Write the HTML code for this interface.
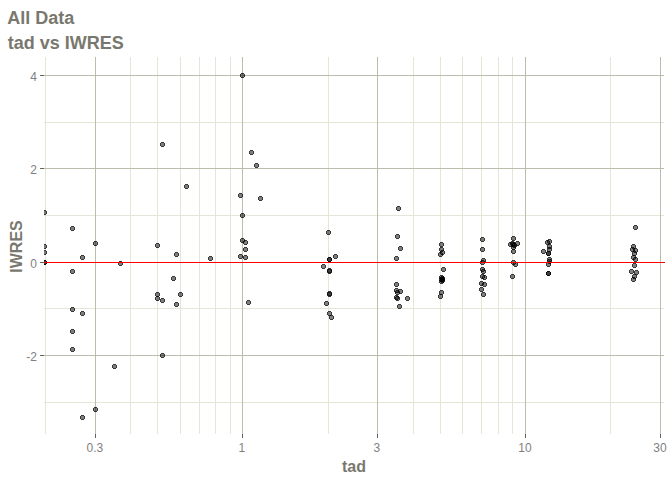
<!DOCTYPE html><html><head><meta charset="utf-8"><style>html,body{margin:0;padding:0;background:#fff;width:672px;height:480px;overflow:hidden}svg{display:block}text{font-family:"Liberation Sans",sans-serif}</style></head><body>
<svg width="672" height="480" viewBox="0 0 672 480">
<rect width="672" height="480" fill="#fff"/>
<defs><clipPath id="pc"><rect x="44" y="57" width="620" height="377"/></clipPath></defs>
<g shape-rendering="crispEdges"><rect x="45.0" y="57" width="1" height="377" fill="#e6e6d8"/><rect x="130.0" y="57" width="1" height="377" fill="#e6e6d8"/><rect x="157.0" y="57" width="1" height="377" fill="#e6e6d8"/><rect x="180.0" y="57" width="1" height="377" fill="#e6e6d8"/><rect x="199.0" y="57" width="1" height="377" fill="#e6e6d8"/><rect x="215.0" y="57" width="1" height="377" fill="#e6e6d8"/><rect x="230.0" y="57" width="1" height="377" fill="#e6e6d8"/><rect x="328.0" y="57" width="1" height="377" fill="#e6e6d8"/><rect x="413.0" y="57" width="1" height="377" fill="#e6e6d8"/><rect x="440.0" y="57" width="1" height="377" fill="#e6e6d8"/><rect x="462.0" y="57" width="1" height="377" fill="#e6e6d8"/><rect x="481.0" y="57" width="1" height="377" fill="#e6e6d8"/><rect x="498.0" y="57" width="1" height="377" fill="#e6e6d8"/><rect x="512.0" y="57" width="1" height="377" fill="#e6e6d8"/><rect x="610.0" y="57" width="1" height="377" fill="#e6e6d8"/><rect x="44" y="122.0" width="620" height="1" fill="#e6e6d8"/><rect x="44" y="215.0" width="620" height="1" fill="#e6e6d8"/><rect x="44" y="308.0" width="620" height="1" fill="#e6e6d8"/><rect x="44" y="402.0" width="620" height="1" fill="#e6e6d8"/><rect x="95.0" y="57" width="1" height="377" fill="#bdbdad"/><rect x="242.0" y="57" width="1" height="377" fill="#bdbdad"/><rect x="377.0" y="57" width="1" height="377" fill="#bdbdad"/><rect x="525.0" y="57" width="1" height="377" fill="#bdbdad"/><rect x="660.0" y="57" width="1" height="377" fill="#bdbdad"/><rect x="44" y="75.0" width="620" height="1" fill="#bdbdad"/><rect x="44" y="168.0" width="620" height="1" fill="#bdbdad"/><rect x="44" y="262.0" width="620" height="1" fill="#bdbdad"/><rect x="44" y="355.0" width="620" height="1" fill="#bdbdad"/></g>
<g clip-path="url(#pc)" shape-rendering="crispEdges" fill="#000"><rect x="43" y="211" width="3" height="3" fill-opacity="0.5"/><path d="M43 210h3v1h-3z M43 214h3v1h-3z M42 211h1v3h-1z M46 211h1v3h-1z" fill-opacity="0.78"/><rect x="43" y="245" width="3" height="3" fill-opacity="0.5"/><path d="M43 244h3v1h-3z M43 248h3v1h-3z M42 245h1v3h-1z M46 245h1v3h-1z" fill-opacity="0.78"/><rect x="43" y="251" width="3" height="3" fill-opacity="0.5"/><path d="M43 250h3v1h-3z M43 254h3v1h-3z M42 251h1v3h-1z M46 251h1v3h-1z" fill-opacity="0.78"/><rect x="43" y="261" width="3" height="3" fill-opacity="0.5"/><path d="M43 260h3v1h-3z M43 264h3v1h-3z M42 261h1v3h-1z M46 261h1v3h-1z" fill-opacity="0.78"/><rect x="43" y="261" width="3" height="3" fill-opacity="0.5"/><path d="M43 260h3v1h-3z M43 264h3v1h-3z M42 261h1v3h-1z M46 261h1v3h-1z" fill-opacity="0.78"/><rect x="71" y="227" width="3" height="3" fill-opacity="0.5"/><path d="M71 226h3v1h-3z M71 230h3v1h-3z M70 227h1v3h-1z M74 227h1v3h-1z" fill-opacity="0.78"/><rect x="71" y="270" width="3" height="3" fill-opacity="0.5"/><path d="M71 269h3v1h-3z M71 273h3v1h-3z M70 270h1v3h-1z M74 270h1v3h-1z" fill-opacity="0.78"/><rect x="71" y="308" width="3" height="3" fill-opacity="0.5"/><path d="M71 307h3v1h-3z M71 311h3v1h-3z M70 308h1v3h-1z M74 308h1v3h-1z" fill-opacity="0.78"/><rect x="71" y="330" width="3" height="3" fill-opacity="0.5"/><path d="M71 329h3v1h-3z M71 333h3v1h-3z M70 330h1v3h-1z M74 330h1v3h-1z" fill-opacity="0.78"/><rect x="71" y="348" width="3" height="3" fill-opacity="0.5"/><path d="M71 347h3v1h-3z M71 351h3v1h-3z M70 348h1v3h-1z M74 348h1v3h-1z" fill-opacity="0.78"/><rect x="81" y="256" width="3" height="3" fill-opacity="0.5"/><path d="M81 255h3v1h-3z M81 259h3v1h-3z M80 256h1v3h-1z M84 256h1v3h-1z" fill-opacity="0.78"/><rect x="81" y="312" width="3" height="3" fill-opacity="0.5"/><path d="M81 311h3v1h-3z M81 315h3v1h-3z M80 312h1v3h-1z M84 312h1v3h-1z" fill-opacity="0.78"/><rect x="81" y="416" width="3" height="3" fill-opacity="0.5"/><path d="M81 415h3v1h-3z M81 419h3v1h-3z M80 416h1v3h-1z M84 416h1v3h-1z" fill-opacity="0.78"/><rect x="94" y="242" width="3" height="3" fill-opacity="0.5"/><path d="M94 241h3v1h-3z M94 245h3v1h-3z M93 242h1v3h-1z M97 242h1v3h-1z" fill-opacity="0.78"/><rect x="94" y="408" width="3" height="3" fill-opacity="0.5"/><path d="M94 407h3v1h-3z M94 411h3v1h-3z M93 408h1v3h-1z M97 408h1v3h-1z" fill-opacity="0.78"/><rect x="113" y="365" width="3" height="3" fill-opacity="0.5"/><path d="M113 364h3v1h-3z M113 368h3v1h-3z M112 365h1v3h-1z M116 365h1v3h-1z" fill-opacity="0.78"/><rect x="119" y="262" width="3" height="3" fill-opacity="0.5"/><path d="M119 261h3v1h-3z M119 265h3v1h-3z M118 262h1v3h-1z M122 262h1v3h-1z" fill-opacity="0.78"/><rect x="156" y="244" width="3" height="3" fill-opacity="0.5"/><path d="M156 243h3v1h-3z M156 247h3v1h-3z M155 244h1v3h-1z M159 244h1v3h-1z" fill-opacity="0.78"/><rect x="161" y="143" width="3" height="3" fill-opacity="0.5"/><path d="M161 142h3v1h-3z M161 146h3v1h-3z M160 143h1v3h-1z M164 143h1v3h-1z" fill-opacity="0.78"/><rect x="175" y="253" width="3" height="3" fill-opacity="0.5"/><path d="M175 252h3v1h-3z M175 256h3v1h-3z M174 253h1v3h-1z M178 253h1v3h-1z" fill-opacity="0.78"/><rect x="172" y="277" width="3" height="3" fill-opacity="0.5"/><path d="M172 276h3v1h-3z M172 280h3v1h-3z M171 277h1v3h-1z M175 277h1v3h-1z" fill-opacity="0.78"/><rect x="156" y="293" width="3" height="3" fill-opacity="0.5"/><path d="M156 292h3v1h-3z M156 296h3v1h-3z M155 293h1v3h-1z M159 293h1v3h-1z" fill-opacity="0.78"/><rect x="179" y="293" width="3" height="3" fill-opacity="0.5"/><path d="M179 292h3v1h-3z M179 296h3v1h-3z M178 293h1v3h-1z M182 293h1v3h-1z" fill-opacity="0.78"/><rect x="156" y="297" width="3" height="3" fill-opacity="0.5"/><path d="M156 296h3v1h-3z M156 300h3v1h-3z M155 297h1v3h-1z M159 297h1v3h-1z" fill-opacity="0.78"/><rect x="161" y="299" width="3" height="3" fill-opacity="0.5"/><path d="M161 298h3v1h-3z M161 302h3v1h-3z M160 299h1v3h-1z M164 299h1v3h-1z" fill-opacity="0.78"/><rect x="175" y="303" width="3" height="3" fill-opacity="0.5"/><path d="M175 302h3v1h-3z M175 306h3v1h-3z M174 303h1v3h-1z M178 303h1v3h-1z" fill-opacity="0.78"/><rect x="161" y="354" width="3" height="3" fill-opacity="0.5"/><path d="M161 353h3v1h-3z M161 357h3v1h-3z M160 354h1v3h-1z M164 354h1v3h-1z" fill-opacity="0.78"/><rect x="185" y="185" width="3" height="3" fill-opacity="0.5"/><path d="M185 184h3v1h-3z M185 188h3v1h-3z M184 185h1v3h-1z M188 185h1v3h-1z" fill-opacity="0.78"/><rect x="209" y="257" width="3" height="3" fill-opacity="0.5"/><path d="M209 256h3v1h-3z M209 260h3v1h-3z M208 257h1v3h-1z M212 257h1v3h-1z" fill-opacity="0.78"/><rect x="241" y="74" width="3" height="3" fill-opacity="0.5"/><path d="M241 73h3v1h-3z M241 77h3v1h-3z M240 74h1v3h-1z M244 74h1v3h-1z" fill-opacity="0.78"/><rect x="250" y="151" width="3" height="3" fill-opacity="0.5"/><path d="M250 150h3v1h-3z M250 154h3v1h-3z M249 151h1v3h-1z M253 151h1v3h-1z" fill-opacity="0.78"/><rect x="255" y="164" width="3" height="3" fill-opacity="0.5"/><path d="M255 163h3v1h-3z M255 167h3v1h-3z M254 164h1v3h-1z M258 164h1v3h-1z" fill-opacity="0.78"/><rect x="239" y="194" width="3" height="3" fill-opacity="0.5"/><path d="M239 193h3v1h-3z M239 197h3v1h-3z M238 194h1v3h-1z M242 194h1v3h-1z" fill-opacity="0.78"/><rect x="259" y="197" width="3" height="3" fill-opacity="0.5"/><path d="M259 196h3v1h-3z M259 200h3v1h-3z M258 197h1v3h-1z M262 197h1v3h-1z" fill-opacity="0.78"/><rect x="241" y="214" width="3" height="3" fill-opacity="0.5"/><path d="M241 213h3v1h-3z M241 217h3v1h-3z M240 214h1v3h-1z M244 214h1v3h-1z" fill-opacity="0.78"/><rect x="241" y="239" width="3" height="3" fill-opacity="0.5"/><path d="M241 238h3v1h-3z M241 242h3v1h-3z M240 239h1v3h-1z M244 239h1v3h-1z" fill-opacity="0.78"/><rect x="244" y="241" width="3" height="3" fill-opacity="0.5"/><path d="M244 240h3v1h-3z M244 244h3v1h-3z M243 241h1v3h-1z M247 241h1v3h-1z" fill-opacity="0.78"/><rect x="244" y="248" width="3" height="3" fill-opacity="0.5"/><path d="M244 247h3v1h-3z M244 251h3v1h-3z M243 248h1v3h-1z M247 248h1v3h-1z" fill-opacity="0.78"/><rect x="239" y="255" width="3" height="3" fill-opacity="0.5"/><path d="M239 254h3v1h-3z M239 258h3v1h-3z M238 255h1v3h-1z M242 255h1v3h-1z" fill-opacity="0.78"/><rect x="244" y="256" width="3" height="3" fill-opacity="0.5"/><path d="M244 255h3v1h-3z M244 259h3v1h-3z M243 256h1v3h-1z M247 256h1v3h-1z" fill-opacity="0.78"/><rect x="247" y="301" width="3" height="3" fill-opacity="0.5"/><path d="M247 300h3v1h-3z M247 304h3v1h-3z M246 301h1v3h-1z M250 301h1v3h-1z" fill-opacity="0.78"/><rect x="327" y="231" width="3" height="3" fill-opacity="0.5"/><path d="M327 230h3v1h-3z M327 234h3v1h-3z M326 231h1v3h-1z M330 231h1v3h-1z" fill-opacity="0.78"/><rect x="334" y="255" width="3" height="3" fill-opacity="0.5"/><path d="M334 254h3v1h-3z M334 258h3v1h-3z M333 255h1v3h-1z M337 255h1v3h-1z" fill-opacity="0.78"/><rect x="328" y="258" width="3" height="3" fill-opacity="0.5"/><path d="M328 257h3v1h-3z M328 261h3v1h-3z M327 258h1v3h-1z M331 258h1v3h-1z" fill-opacity="0.78"/><rect x="328" y="258" width="3" height="3" fill-opacity="0.5"/><path d="M328 257h3v1h-3z M328 261h3v1h-3z M327 258h1v3h-1z M331 258h1v3h-1z" fill-opacity="0.78"/><rect x="322" y="265" width="3" height="3" fill-opacity="0.5"/><path d="M322 264h3v1h-3z M322 268h3v1h-3z M321 265h1v3h-1z M325 265h1v3h-1z" fill-opacity="0.78"/><rect x="328" y="269" width="3" height="3" fill-opacity="0.5"/><path d="M328 268h3v1h-3z M328 272h3v1h-3z M327 269h1v3h-1z M331 269h1v3h-1z" fill-opacity="0.78"/><rect x="328" y="270" width="3" height="3" fill-opacity="0.5"/><path d="M328 269h3v1h-3z M328 273h3v1h-3z M327 270h1v3h-1z M331 270h1v3h-1z" fill-opacity="0.78"/><rect x="328" y="292" width="3" height="3" fill-opacity="0.5"/><path d="M328 291h3v1h-3z M328 295h3v1h-3z M327 292h1v3h-1z M331 292h1v3h-1z" fill-opacity="0.78"/><rect x="328" y="293" width="3" height="3" fill-opacity="0.5"/><path d="M328 292h3v1h-3z M328 296h3v1h-3z M327 293h1v3h-1z M331 293h1v3h-1z" fill-opacity="0.78"/><rect x="325" y="302" width="3" height="3" fill-opacity="0.5"/><path d="M325 301h3v1h-3z M325 305h3v1h-3z M324 302h1v3h-1z M328 302h1v3h-1z" fill-opacity="0.78"/><rect x="328" y="312" width="3" height="3" fill-opacity="0.5"/><path d="M328 311h3v1h-3z M328 315h3v1h-3z M327 312h1v3h-1z M331 312h1v3h-1z" fill-opacity="0.78"/><rect x="330" y="316" width="3" height="3" fill-opacity="0.5"/><path d="M330 315h3v1h-3z M330 319h3v1h-3z M329 316h1v3h-1z M333 316h1v3h-1z" fill-opacity="0.78"/><rect x="397" y="207" width="3" height="3" fill-opacity="0.5"/><path d="M397 206h3v1h-3z M397 210h3v1h-3z M396 207h1v3h-1z M400 207h1v3h-1z" fill-opacity="0.78"/><rect x="396" y="235" width="3" height="3" fill-opacity="0.5"/><path d="M396 234h3v1h-3z M396 238h3v1h-3z M395 235h1v3h-1z M399 235h1v3h-1z" fill-opacity="0.78"/><rect x="399" y="247" width="3" height="3" fill-opacity="0.5"/><path d="M399 246h3v1h-3z M399 250h3v1h-3z M398 247h1v3h-1z M402 247h1v3h-1z" fill-opacity="0.78"/><rect x="395" y="257" width="3" height="3" fill-opacity="0.5"/><path d="M395 256h3v1h-3z M395 260h3v1h-3z M394 257h1v3h-1z M398 257h1v3h-1z" fill-opacity="0.78"/><rect x="395" y="283" width="3" height="3" fill-opacity="0.5"/><path d="M395 282h3v1h-3z M395 286h3v1h-3z M394 283h1v3h-1z M398 283h1v3h-1z" fill-opacity="0.78"/><rect x="395" y="289" width="3" height="3" fill-opacity="0.5"/><path d="M395 288h3v1h-3z M395 292h3v1h-3z M394 289h1v3h-1z M398 289h1v3h-1z" fill-opacity="0.78"/><rect x="399" y="290" width="3" height="3" fill-opacity="0.5"/><path d="M399 289h3v1h-3z M399 293h3v1h-3z M398 290h1v3h-1z M402 290h1v3h-1z" fill-opacity="0.78"/><rect x="396" y="291" width="3" height="3" fill-opacity="0.5"/><path d="M396 290h3v1h-3z M396 294h3v1h-3z M395 291h1v3h-1z M399 291h1v3h-1z" fill-opacity="0.78"/><rect x="396" y="297" width="3" height="3" fill-opacity="0.5"/><path d="M396 296h3v1h-3z M396 300h3v1h-3z M395 297h1v3h-1z M399 297h1v3h-1z" fill-opacity="0.78"/><rect x="395" y="296" width="3" height="3" fill-opacity="0.5"/><path d="M395 295h3v1h-3z M395 299h3v1h-3z M394 296h1v3h-1z M398 296h1v3h-1z" fill-opacity="0.78"/><rect x="406" y="297" width="3" height="3" fill-opacity="0.5"/><path d="M406 296h3v1h-3z M406 300h3v1h-3z M405 297h1v3h-1z M409 297h1v3h-1z" fill-opacity="0.78"/><rect x="398" y="305" width="3" height="3" fill-opacity="0.5"/><path d="M398 304h3v1h-3z M398 308h3v1h-3z M397 305h1v3h-1z M401 305h1v3h-1z" fill-opacity="0.78"/><rect x="440" y="243" width="3" height="3" fill-opacity="0.5"/><path d="M440 242h3v1h-3z M440 246h3v1h-3z M439 243h1v3h-1z M443 243h1v3h-1z" fill-opacity="0.78"/><rect x="440" y="248" width="3" height="3" fill-opacity="0.5"/><path d="M440 247h3v1h-3z M440 251h3v1h-3z M439 248h1v3h-1z M443 248h1v3h-1z" fill-opacity="0.78"/><rect x="441" y="251" width="3" height="3" fill-opacity="0.5"/><path d="M441 250h3v1h-3z M441 254h3v1h-3z M440 251h1v3h-1z M444 251h1v3h-1z" fill-opacity="0.78"/><rect x="439" y="253" width="3" height="3" fill-opacity="0.5"/><path d="M439 252h3v1h-3z M439 256h3v1h-3z M438 253h1v3h-1z M442 253h1v3h-1z" fill-opacity="0.78"/><rect x="442" y="268" width="3" height="3" fill-opacity="0.5"/><path d="M442 267h3v1h-3z M442 271h3v1h-3z M441 268h1v3h-1z M445 268h1v3h-1z" fill-opacity="0.78"/><rect x="440" y="276" width="3" height="3" fill-opacity="0.5"/><path d="M440 275h3v1h-3z M440 279h3v1h-3z M439 276h1v3h-1z M443 276h1v3h-1z" fill-opacity="0.78"/><rect x="441" y="278" width="3" height="3" fill-opacity="0.5"/><path d="M441 277h3v1h-3z M441 281h3v1h-3z M440 278h1v3h-1z M444 278h1v3h-1z" fill-opacity="0.78"/><rect x="440" y="280" width="3" height="3" fill-opacity="0.5"/><path d="M440 279h3v1h-3z M440 283h3v1h-3z M439 280h1v3h-1z M443 280h1v3h-1z" fill-opacity="0.78"/><rect x="440" y="278" width="3" height="3" fill-opacity="0.5"/><path d="M440 277h3v1h-3z M440 281h3v1h-3z M439 278h1v3h-1z M443 278h1v3h-1z" fill-opacity="0.78"/><rect x="441" y="277" width="3" height="3" fill-opacity="0.5"/><path d="M441 276h3v1h-3z M441 280h3v1h-3z M440 277h1v3h-1z M444 277h1v3h-1z" fill-opacity="0.78"/><rect x="441" y="279" width="3" height="3" fill-opacity="0.5"/><path d="M441 278h3v1h-3z M441 282h3v1h-3z M440 279h1v3h-1z M444 279h1v3h-1z" fill-opacity="0.78"/><rect x="440" y="291" width="3" height="3" fill-opacity="0.5"/><path d="M440 290h3v1h-3z M440 294h3v1h-3z M439 291h1v3h-1z M443 291h1v3h-1z" fill-opacity="0.78"/><rect x="439" y="295" width="3" height="3" fill-opacity="0.5"/><path d="M439 294h3v1h-3z M439 298h3v1h-3z M438 295h1v3h-1z M442 295h1v3h-1z" fill-opacity="0.78"/><rect x="481" y="238" width="3" height="3" fill-opacity="0.5"/><path d="M481 237h3v1h-3z M481 241h3v1h-3z M480 238h1v3h-1z M484 238h1v3h-1z" fill-opacity="0.78"/><rect x="481" y="248" width="3" height="3" fill-opacity="0.5"/><path d="M481 247h3v1h-3z M481 251h3v1h-3z M480 248h1v3h-1z M484 248h1v3h-1z" fill-opacity="0.78"/><rect x="482" y="259" width="3" height="3" fill-opacity="0.5"/><path d="M482 258h3v1h-3z M482 262h3v1h-3z M481 259h1v3h-1z M485 259h1v3h-1z" fill-opacity="0.78"/><rect x="481" y="261" width="3" height="3" fill-opacity="0.5"/><path d="M481 260h3v1h-3z M481 264h3v1h-3z M480 261h1v3h-1z M484 261h1v3h-1z" fill-opacity="0.78"/><rect x="481" y="268" width="3" height="3" fill-opacity="0.5"/><path d="M481 267h3v1h-3z M481 271h3v1h-3z M480 268h1v3h-1z M484 268h1v3h-1z" fill-opacity="0.78"/><rect x="482" y="270" width="3" height="3" fill-opacity="0.5"/><path d="M482 269h3v1h-3z M482 273h3v1h-3z M481 270h1v3h-1z M485 270h1v3h-1z" fill-opacity="0.78"/><rect x="481" y="275" width="3" height="3" fill-opacity="0.5"/><path d="M481 274h3v1h-3z M481 278h3v1h-3z M480 275h1v3h-1z M484 275h1v3h-1z" fill-opacity="0.78"/><rect x="483" y="276" width="3" height="3" fill-opacity="0.5"/><path d="M483 275h3v1h-3z M483 279h3v1h-3z M482 276h1v3h-1z M486 276h1v3h-1z" fill-opacity="0.78"/><rect x="480" y="282" width="3" height="3" fill-opacity="0.5"/><path d="M480 281h3v1h-3z M480 285h3v1h-3z M479 282h1v3h-1z M483 282h1v3h-1z" fill-opacity="0.78"/><rect x="483" y="283" width="3" height="3" fill-opacity="0.5"/><path d="M483 282h3v1h-3z M483 286h3v1h-3z M482 283h1v3h-1z M486 283h1v3h-1z" fill-opacity="0.78"/><rect x="480" y="288" width="3" height="3" fill-opacity="0.5"/><path d="M480 287h3v1h-3z M480 291h3v1h-3z M479 288h1v3h-1z M483 288h1v3h-1z" fill-opacity="0.78"/><rect x="482" y="293" width="3" height="3" fill-opacity="0.5"/><path d="M482 292h3v1h-3z M482 296h3v1h-3z M481 293h1v3h-1z M485 293h1v3h-1z" fill-opacity="0.78"/><rect x="512" y="237" width="3" height="3" fill-opacity="0.5"/><path d="M512 236h3v1h-3z M512 240h3v1h-3z M511 237h1v3h-1z M515 237h1v3h-1z" fill-opacity="0.78"/><rect x="516" y="242" width="3" height="3" fill-opacity="0.5"/><path d="M516 241h3v1h-3z M516 245h3v1h-3z M515 242h1v3h-1z M519 242h1v3h-1z" fill-opacity="0.78"/><rect x="509" y="243" width="3" height="3" fill-opacity="0.5"/><path d="M509 242h3v1h-3z M509 246h3v1h-3z M508 243h1v3h-1z M512 243h1v3h-1z" fill-opacity="0.78"/><rect x="511" y="242" width="3" height="3" fill-opacity="0.5"/><path d="M511 241h3v1h-3z M511 245h3v1h-3z M510 242h1v3h-1z M514 242h1v3h-1z" fill-opacity="0.78"/><rect x="512" y="243" width="3" height="3" fill-opacity="0.5"/><path d="M512 242h3v1h-3z M512 246h3v1h-3z M511 243h1v3h-1z M515 243h1v3h-1z" fill-opacity="0.78"/><rect x="513" y="244" width="3" height="3" fill-opacity="0.5"/><path d="M513 243h3v1h-3z M513 247h3v1h-3z M512 244h1v3h-1z M516 244h1v3h-1z" fill-opacity="0.78"/><rect x="512" y="246" width="3" height="3" fill-opacity="0.5"/><path d="M512 245h3v1h-3z M512 249h3v1h-3z M511 246h1v3h-1z M515 246h1v3h-1z" fill-opacity="0.78"/><rect x="512" y="250" width="3" height="3" fill-opacity="0.5"/><path d="M512 249h3v1h-3z M512 253h3v1h-3z M511 250h1v3h-1z M515 250h1v3h-1z" fill-opacity="0.78"/><rect x="512" y="261" width="3" height="3" fill-opacity="0.5"/><path d="M512 260h3v1h-3z M512 264h3v1h-3z M511 261h1v3h-1z M515 261h1v3h-1z" fill-opacity="0.78"/><rect x="514" y="263" width="3" height="3" fill-opacity="0.5"/><path d="M514 262h3v1h-3z M514 266h3v1h-3z M513 263h1v3h-1z M517 263h1v3h-1z" fill-opacity="0.78"/><rect x="511" y="275" width="3" height="3" fill-opacity="0.5"/><path d="M511 274h3v1h-3z M511 278h3v1h-3z M510 275h1v3h-1z M514 275h1v3h-1z" fill-opacity="0.78"/><rect x="546" y="241" width="3" height="3" fill-opacity="0.5"/><path d="M546 240h3v1h-3z M546 244h3v1h-3z M545 241h1v3h-1z M549 241h1v3h-1z" fill-opacity="0.78"/><rect x="548" y="240" width="3" height="3" fill-opacity="0.5"/><path d="M548 239h3v1h-3z M548 243h3v1h-3z M547 240h1v3h-1z M551 240h1v3h-1z" fill-opacity="0.78"/><rect x="548" y="245" width="3" height="3" fill-opacity="0.5"/><path d="M548 244h3v1h-3z M548 248h3v1h-3z M547 245h1v3h-1z M551 245h1v3h-1z" fill-opacity="0.78"/><rect x="548" y="248" width="3" height="3" fill-opacity="0.5"/><path d="M548 247h3v1h-3z M548 251h3v1h-3z M547 248h1v3h-1z M551 248h1v3h-1z" fill-opacity="0.78"/><rect x="542" y="250" width="3" height="3" fill-opacity="0.5"/><path d="M542 249h3v1h-3z M542 253h3v1h-3z M541 250h1v3h-1z M545 250h1v3h-1z" fill-opacity="0.78"/><rect x="547" y="252" width="3" height="3" fill-opacity="0.5"/><path d="M547 251h3v1h-3z M547 255h3v1h-3z M546 252h1v3h-1z M550 252h1v3h-1z" fill-opacity="0.78"/><rect x="547" y="252" width="3" height="3" fill-opacity="0.5"/><path d="M547 251h3v1h-3z M547 255h3v1h-3z M546 252h1v3h-1z M550 252h1v3h-1z" fill-opacity="0.78"/><rect x="548" y="258" width="3" height="3" fill-opacity="0.5"/><path d="M548 257h3v1h-3z M548 261h3v1h-3z M547 258h1v3h-1z M551 258h1v3h-1z" fill-opacity="0.78"/><rect x="548" y="260" width="3" height="3" fill-opacity="0.5"/><path d="M548 259h3v1h-3z M548 263h3v1h-3z M547 260h1v3h-1z M551 260h1v3h-1z" fill-opacity="0.78"/><rect x="547" y="263" width="3" height="3" fill-opacity="0.5"/><path d="M547 262h3v1h-3z M547 266h3v1h-3z M546 263h1v3h-1z M550 263h1v3h-1z" fill-opacity="0.78"/><rect x="547" y="272" width="3" height="3" fill-opacity="0.5"/><path d="M547 271h3v1h-3z M547 275h3v1h-3z M546 272h1v3h-1z M550 272h1v3h-1z" fill-opacity="0.78"/><rect x="547" y="272" width="3" height="3" fill-opacity="0.5"/><path d="M547 271h3v1h-3z M547 275h3v1h-3z M546 272h1v3h-1z M550 272h1v3h-1z" fill-opacity="0.78"/><rect x="634" y="226" width="3" height="3" fill-opacity="0.5"/><path d="M634 225h3v1h-3z M634 229h3v1h-3z M633 226h1v3h-1z M637 226h1v3h-1z" fill-opacity="0.78"/><rect x="632" y="245" width="3" height="3" fill-opacity="0.5"/><path d="M632 244h3v1h-3z M632 248h3v1h-3z M631 245h1v3h-1z M635 245h1v3h-1z" fill-opacity="0.78"/><rect x="631" y="248" width="3" height="3" fill-opacity="0.5"/><path d="M631 247h3v1h-3z M631 251h3v1h-3z M630 248h1v3h-1z M634 248h1v3h-1z" fill-opacity="0.78"/><rect x="634" y="249" width="3" height="3" fill-opacity="0.5"/><path d="M634 248h3v1h-3z M634 252h3v1h-3z M633 249h1v3h-1z M637 249h1v3h-1z" fill-opacity="0.78"/><rect x="633" y="252" width="3" height="3" fill-opacity="0.5"/><path d="M633 251h3v1h-3z M633 255h3v1h-3z M632 252h1v3h-1z M636 252h1v3h-1z" fill-opacity="0.78"/><rect x="632" y="256" width="3" height="3" fill-opacity="0.5"/><path d="M632 255h3v1h-3z M632 259h3v1h-3z M631 256h1v3h-1z M635 256h1v3h-1z" fill-opacity="0.78"/><rect x="634" y="258" width="3" height="3" fill-opacity="0.5"/><path d="M634 257h3v1h-3z M634 261h3v1h-3z M633 258h1v3h-1z M637 258h1v3h-1z" fill-opacity="0.78"/><rect x="633" y="264" width="3" height="3" fill-opacity="0.5"/><path d="M633 263h3v1h-3z M633 267h3v1h-3z M632 264h1v3h-1z M636 264h1v3h-1z" fill-opacity="0.78"/><rect x="630" y="270" width="3" height="3" fill-opacity="0.5"/><path d="M630 269h3v1h-3z M630 273h3v1h-3z M629 270h1v3h-1z M633 270h1v3h-1z" fill-opacity="0.78"/><rect x="635" y="271" width="3" height="3" fill-opacity="0.5"/><path d="M635 270h3v1h-3z M635 274h3v1h-3z M634 271h1v3h-1z M638 271h1v3h-1z" fill-opacity="0.78"/><rect x="633" y="275" width="3" height="3" fill-opacity="0.5"/><path d="M633 274h3v1h-3z M633 278h3v1h-3z M632 275h1v3h-1z M636 275h1v3h-1z" fill-opacity="0.78"/><rect x="632" y="278" width="3" height="3" fill-opacity="0.5"/><path d="M632 277h3v1h-3z M632 281h3v1h-3z M631 278h1v3h-1z M635 278h1v3h-1z" fill-opacity="0.78"/></g>
<rect x="44" y="262" width="621" height="1" fill="#ff0000" shape-rendering="crispEdges"/>
<g shape-rendering="crispEdges"><rect x="95.0" y="434" width="1" height="4" fill="#67655b"/><rect x="242.0" y="434" width="1" height="4" fill="#67655b"/><rect x="377.0" y="434" width="1" height="4" fill="#67655b"/><rect x="525.0" y="434" width="1" height="4" fill="#67655b"/><rect x="660.0" y="434" width="1" height="4" fill="#67655b"/><rect x="40" y="75.0" width="4" height="1" fill="#67655b"/><rect x="40" y="168.0" width="4" height="1" fill="#67655b"/><rect x="40" y="262.0" width="4" height="1" fill="#67655b"/><rect x="40" y="355.0" width="4" height="1" fill="#67655b"/></g>
<text x="94.9" y="452" font-size="12" fill="#7f7f7f" text-anchor="middle">0.3</text>
<text x="241.9" y="452" font-size="12" fill="#7f7f7f" text-anchor="middle">1</text>
<text x="376.9" y="452" font-size="12" fill="#7f7f7f" text-anchor="middle">3</text>
<text x="524.9" y="452" font-size="12" fill="#7f7f7f" text-anchor="middle">10</text>
<text x="659.9" y="452" font-size="12" fill="#7f7f7f" text-anchor="middle">30</text>
<text x="37" y="81.0" font-size="12" fill="#7f7f7f" text-anchor="end">4</text>
<text x="37" y="174.0" font-size="12" fill="#7f7f7f" text-anchor="end">2</text>
<text x="37" y="268.0" font-size="12" fill="#7f7f7f" text-anchor="end">0</text>
<text x="37" y="361.0" font-size="12" fill="#7f7f7f" text-anchor="end">-2</text>
<text x="7.3" y="24" font-size="18" font-weight="bold" fill="#79786e">All Data</text>
<text x="7.7" y="49" font-size="18" font-weight="bold" fill="#79786e">tad vs IWRES</text>
<text x="354" y="472" font-size="16" font-weight="bold" fill="#79786e" text-anchor="middle">tad</text>
<text transform="translate(22,246.5) rotate(-90)" x="0" y="0" font-size="16" font-weight="bold" fill="#79786e" text-anchor="middle">IWRES</text>
</svg></body></html>
